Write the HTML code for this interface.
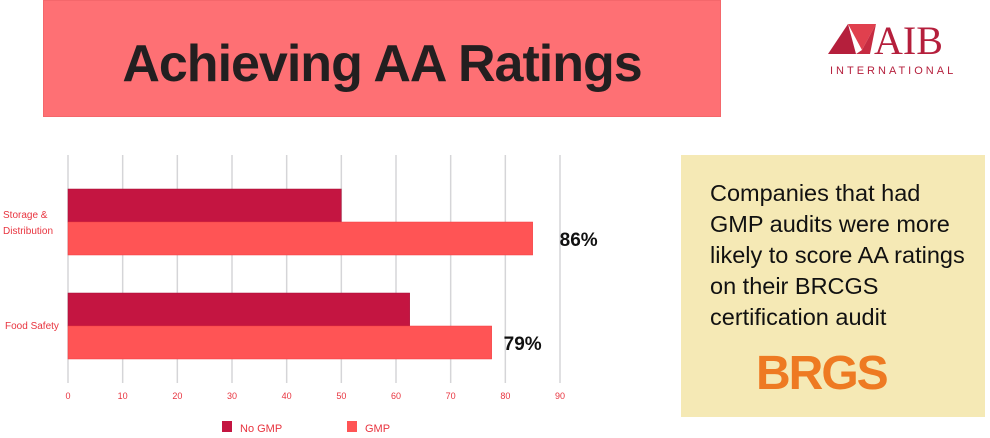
<!DOCTYPE html>
<html><head><meta charset="utf-8"><style>
body{margin:0;width:990px;height:438px;background:#fff;position:relative;overflow:hidden;font-family:"Liberation Sans",sans-serif}
#title{position:absolute;left:43px;top:0;width:678px;height:117px;background:#fe7074;border:1px solid #f4676b;box-sizing:border-box}
#title span{position:absolute;left:0;right:0;top:33px;text-align:center;font-weight:bold;font-size:52px;color:#231f20;letter-spacing:-1px}
#note{position:absolute;left:681px;top:155px;width:304px;height:262px;background:#f5e9b5}
#note p{margin:0;position:absolute;left:29px;top:23px;font-size:23.5px;line-height:31px;color:#111}
</style></head><body>
<div id="title"><span>Achieving AA Ratings</span></div>
<svg style="position:absolute;left:820px;top:18px" width="160" height="60">
<polygon points="8,36 28,6 36,36" fill="#b51f3c"/><polygon points="28,6 56,6 42,32" fill="#e0404e"/><polygon points="36,36 42,32 56,6 50,36" fill="#c62b41"/>
<text x="54" y="36" font-family="Liberation Serif" font-size="40" fill="#b51f3c">AIB</text>
<text x="10" y="56" font-size="11" letter-spacing="3" fill="#b51f3c">INTERNATIONAL</text></svg>
<div id="note"><p>Companies that had<br>GMP audits were more<br>likely to score AA ratings<br>on their BRCGS<br>certification audit</p>
<svg style="position:absolute;left:75px;top:190px" width="160" height="50"><text x="0" y="44" font-size="48" font-weight="bold" fill="#ee7a22" letter-spacing="-2">BRGS</text></svg></div>
<svg id="chart" style="position:absolute;left:0;top:0" width="680" height="438"></svg>
<script>
const categories=["Storage & Distribution","Food Safety"];
const noGmp=[50,62.5];
const gmp=[85,77.5];
const labels=["86%","79%"];
const ticks=[0,10,20,30,40,50,60,70,80,90];
const NS="http://www.w3.org/2000/svg";
const svg=document.getElementById('chart');
const x=v=>68+v*(492/90);
function mk(t,a,txt){const e=document.createElementNS(NS,t);for(const k in a)e.setAttribute(k,a[k]);if(txt!=null)e.textContent=txt;svg.appendChild(e);return e;}
ticks.forEach(t=>{
const g=mk('line',{x1:x(t),x2:x(t),y1:155,y2:383,stroke:'#d5d5d8','stroke-width':1.5});


const l=mk('text',{x:x(t),y:399,'font-size':9,fill:'#e8343f','text-anchor':'middle'},t);


});
const cy=[222,326];
categories.forEach((c,i)=>{
const b1=mk('rect',{x:x(0),y:cy[i]-33,width:x(noGmp[i])-x(0),height:33,fill:'#c41541',stroke:'#a80f36','stroke-width':0.5});


const b2=mk('rect',{x:x(0),y:cy[i],width:x(gmp[i])-x(0),height:33,fill:'#ff5455',stroke:'#f23c40','stroke-width':0.5});


const v=mk('text',{x:x(gmp[i])+(i==0?27:12),y:cy[i]+24,'font-size':19,'font-weight':'bold',fill:'#111'},labels[i]);


const parts=c==="Storage & Distribution"?["Storage &","Distribution"]:[c];
parts.forEach((p,j)=>{const t=mk('text',{x:i==0?3:5,y:(i==0?cy[i]+4:cy[i]+3)+j*16-(parts.length-1)*8,'font-size':10,fill:'#e8343f'},p);

});
});
[[222,'#c41541','No GMP'],[347,'#ff5455','GMP']].forEach(([lx,col,txt])=>{
const r=mk('rect',{x:lx,y:421,width:10,height:11,fill:col});


const t=mk('text',{x:lx+18,y:432,'font-size':11,fill:'#e8343f'},txt);


});
</script>
</body></html>
